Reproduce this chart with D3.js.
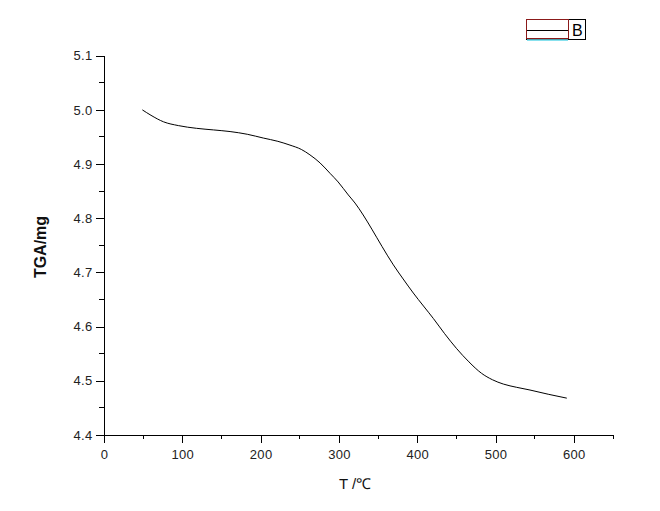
<!DOCTYPE html>
<html><head><meta charset="utf-8">
<script src="https://cdn.jsdelivr.net/npm/d3@7/dist/d3.min.js"></script>
<style>body{margin:0;background:#fff}svg{display:block}</style>
</head><body>
<script>
const temps = [49, 60, 76, 95, 118, 140, 161, 183, 203.5, 222, 237.5, 252, 263, 276, 288.6, 299, 312, 320.6, 331, 342, 355, 369.5, 382, 395, 408, 420.6, 435, 450, 466, 482, 496, 510, 527, 544, 568, 591];
const masses = [5.000, 4.990, 4.978, 4.971, 4.966, 4.963, 4.960, 4.955, 4.948, 4.942, 4.935, 4.927, 4.917, 4.902, 4.883, 4.867, 4.843, 4.828, 4.806, 4.780, 4.748, 4.714, 4.688, 4.662, 4.638, 4.615, 4.587, 4.560, 4.535, 4.514, 4.502, 4.494, 4.488, 4.483, 4.475, 4.468];
const xTicks = [0, 100, 200, 300, 400, 500, 600];
const yTicks = [4.4, 4.5, 4.6, 4.7, 4.8, 4.9, 5.0, 5.1];
const seriesName = "B";

const W = 660, H = 511;
const svg = d3.select("body").append("svg").attr("width", W).attr("height", H);
const x = d3.scaleLinear().domain([0, 650]).range([104, 613]);
const y = d3.scaleLinear().domain([4.4, 5.1]).range([435, 55.7]);
const font = "Arial, 'Liberation Sans', sans-serif";

// minor ticks
const xMinor = d3.range(50, 651, 100);
const yMinor = d3.range(4.45, 5.1, 0.1);
svg.append("g").selectAll("line").data(xMinor).join("line")
  .attr("x1", d => x(d)).attr("x2", d => x(d)).attr("y1", 435).attr("y2", 439)
  .attr("stroke", "#000").attr("shape-rendering", "crispEdges");
svg.append("g").selectAll("line").data(yMinor).join("line")
  .attr("y1", d => y(d)).attr("y2", d => y(d)).attr("x1", 103.5).attr("x2", 99)
  .attr("stroke", "#000").attr("shape-rendering", "crispEdges");

const xAxis = svg.append("g").attr("transform", "translate(0,435)")
  .call(d3.axisBottom(x).tickValues(xTicks).tickSize(8).tickPadding(4).tickFormat(d3.format("d")));
const yAxis = svg.append("g").attr("transform", "translate(103.5,0)")
  .call(d3.axisLeft(y).tickValues(yTicks).tickSize(8).tickPadding(3).tickFormat(d3.format(".1f")));
[xAxis, yAxis].forEach(g => {
  g.select(".domain").attr("stroke", "#000").attr("shape-rendering", "crispEdges");
  g.selectAll(".tick line").attr("stroke", "#000").attr("shape-rendering", "crispEdges");
  g.selectAll("text").attr("font-family", font).attr("font-size", 13).attr("fill", "#222").attr("letter-spacing", "0.3px");
});
xAxis.select(".domain").attr("d", `M${x(0)},0.5H${x(650)}`);
yAxis.select(".domain").attr("d", `M0.5,${y(5.1)}V${y(4.4)}`);
xAxis.selectAll("text").attr("dy", "0.9em");

// line
const line = d3.line().x((d, i) => x(temps[i])).y(d => y(d)).curve(d3.curveMonotoneX);
svg.append("path").datum(masses).attr("d", line).attr("fill", "none").attr("stroke", "#000").attr("stroke-width", 1);

// axis titles
svg.append("text").attr("x", 355).attr("y", 489).attr("text-anchor", "middle")
  .attr("font-family", font).attr("font-size", 15).attr("fill", "#111").text("T /℃");
svg.append("text").attr("transform", "translate(46,247) rotate(-90)").attr("text-anchor", "middle")
  .attr("font-family", font).attr("font-size", 16).attr("font-weight", "bold").attr("fill", "#111").text("TGA/mg");

// legend
const lg = svg.append("g");
lg.append("rect").attr("x", 526.5).attr("y", 19.5).attr("width", 59).attr("height", 20)
  .attr("fill", "#fff").attr("stroke", "#000");
lg.append("rect").attr("x", 526.5).attr("y", 19.5).attr("width", 42).attr("height", 19)
  .attr("fill", "none").attr("stroke", "#8b1a1a");
lg.append("line").attr("x1", 527).attr("x2", 568).attr("y1", 40).attr("y2", 40).attr("stroke", "#5fd7e8").attr("stroke-width", 1.5);
lg.append("line").attr("x1", 527).attr("x2", 568).attr("y1", 30.5).attr("y2", 30.5).attr("stroke", "#000");
lg.append("text").attr("x", 572).attr("y", 36).attr("font-family", font).attr("font-size", 16).attr("fill", "#000").text(seriesName);
</script>
</body></html>
